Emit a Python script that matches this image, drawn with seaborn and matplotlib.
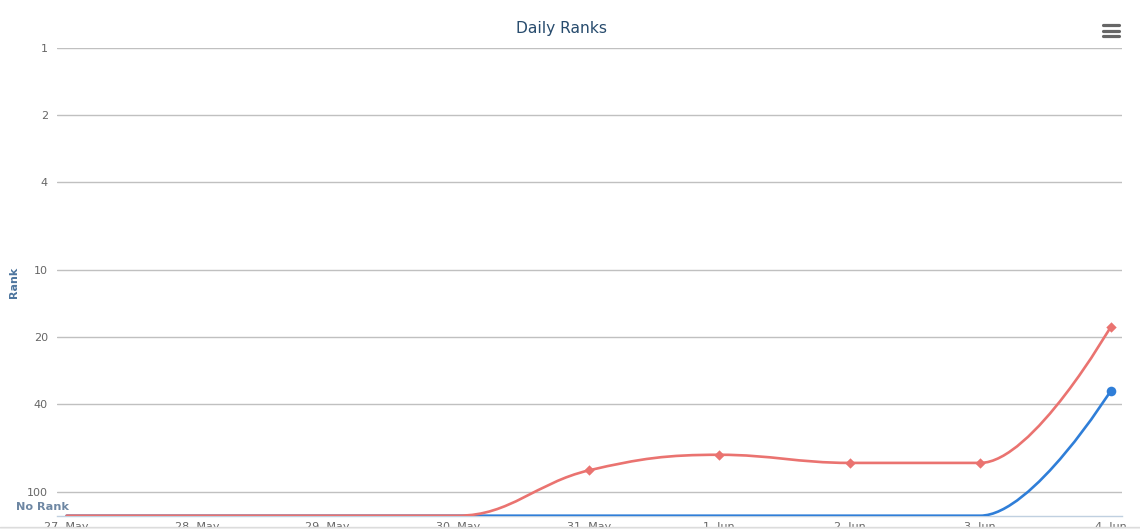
import numpy as np
import pandas as pd
import matplotlib
matplotlib.use('Agg')
import matplotlib.pyplot as plt
import seaborn as sns
from matplotlib.path import Path
from matplotlib.patches import PathPatch, Rectangle
from matplotlib.lines import Line2D
from matplotlib.ticker import FixedLocator, NullLocator, FixedFormatter

# Chart values
DAY_LABELS = ['27. May', '28. May', '29. May', '30. May', '31. May',
              '1. Jun', '2. Jun', '3. Jun', '4. Jun']
NO_RANK = 128  # where "No Rank" sits, the bottom of the axis
RANK_TICKS = [1, 2, 4, 10, 20, 40, 100]
RED_RANKS = [None, None, None, None, 80, 68, 74, 74, 18]
BLUE_RANKS = [None, None, None, None, None, None, None, None, 35]

RED = '#ea7370'
BLUE = '#2f7ed8'
W, H = 1140, 529


def fx(x):
    return x / W


def fy(y):
    return 1 - y / H


def spline_path(xs, ys):
    # Highcharts style spline, computed in (x, log10 rank) space
    ly = [np.log10(v) for v in ys]
    smoothing = 1.5
    denom = smoothing + 1
    right = {}
    verts = [(xs[0], ys[0])]
    codes = [Path.MOVETO]
    for i in range(len(xs)):
        px_, py_ = xs[i], ly[i]
        lcx, lcy = px_, py_
        if 0 < i < len(xs) - 1:
            lx, lyy = xs[i - 1], ly[i - 1]
            nx, ny = xs[i + 1], ly[i + 1]
            lcx = (smoothing * px_ + lx) / denom
            lcy = (smoothing * py_ + lyy) / denom
            rcx = (smoothing * px_ + nx) / denom
            rcy = (smoothing * py_ + ny) / denom
            corr = (rcy - lcy) * (rcx - px_) / (rcx - lcx) + py_ - rcy
            lcy += corr
            rcy += corr
            if lcy > lyy and lcy > py_:
                lcy = max(lyy, py_)
                rcy = 2 * py_ - lcy
            elif lcy < lyy and lcy < py_:
                lcy = min(lyy, py_)
                rcy = 2 * py_ - lcy
            if rcy > ny and rcy > py_:
                rcy = max(ny, py_)
                lcy = 2 * py_ - rcy
            elif rcy < ny and rcy < py_:
                rcy = min(ny, py_)
                lcy = 2 * py_ - rcy
            right[i] = (rcx, rcy)
        if i > 0:
            c1x, c1y = right.get(i - 1, (xs[i - 1], ly[i - 1]))
            verts += [(c1x, 10 ** c1y), (lcx, 10 ** lcy), (px_, 10 ** py_)]
            codes += [Path.CURVE4] * 3
    return Path(verts, codes)


sns.set_style('white')
plt.rcParams['font.family'] = ['DejaVu Sans']

fig = plt.figure(figsize=(W / 100, H / 100), dpi=100)
left, right_, top, bottom = 57, 1121.7, 48.3, 515.7
ax = fig.add_axes([fx(left), fy(bottom), fx(right_ - left), (bottom - top) / H])

x_days = np.arange(len(DAY_LABELS))
ax.set_yscale('log')
ax.set_ylim(NO_RANK, 1)
ax.set_xlim(-0.074, len(DAY_LABELS) - 1 + 0.084)

for y in RANK_TICKS:
    ax.axhline(y, color='#c0c0c0', lw=1, zorder=1)

# lines (blue first, red drawn on top)
for ranks, color in [(BLUE_RANKS, BLUE), (RED_RANKS, RED)]:
    ys = [NO_RANK if r is None else r for r in ranks]
    patch = PathPatch(spline_path(list(x_days), ys), facecolor='none',
                      edgecolor=color, lw=1.9, transform=ax.transData, zorder=3,
                      capstyle='round', joinstyle='round')
    ax.add_patch(patch)

# markers for the ranked days
red_df = pd.DataFrame({'day': x_days, 'rank': RED_RANKS}).dropna()
blue_df = pd.DataFrame({'day': x_days, 'rank': BLUE_RANKS}).dropna()
sns.scatterplot(data=blue_df, x='day', y='rank', ax=ax, color=BLUE, marker='o',
                s=48, edgecolor=BLUE, linewidth=0, zorder=4)
sns.scatterplot(data=red_df, x='day', y='rank', ax=ax, color=RED, marker='D',
                s=28, edgecolor=RED, linewidth=0, zorder=5)

ax.set_xlabel('')
ax.set_ylabel('')
for s in ['top', 'right', 'left']:
    ax.spines[s].set_visible(False)
ax.spines['bottom'].set_color('#c0d0e0')
ax.spines['bottom'].set_linewidth(1)

ax.yaxis.set_major_locator(FixedLocator(RANK_TICKS))
ax.yaxis.set_major_formatter(FixedFormatter([str(t) for t in RANK_TICKS]))
ax.yaxis.set_minor_locator(NullLocator())
ax.tick_params(axis='y', length=0, pad=6.5, labelsize=8, labelcolor='#666666')
ax.set_xticks(x_days)
ax.set_xticklabels(DAY_LABELS)
ax.tick_params(axis='x', direction='out', length=3.6, width=0.8, color='#c0d0e0',
               pad=1, labelsize=8, labelcolor='#666666')

# texts
fig.text(fx(562), fy(28), 'Daily Ranks', ha='center', va='center',
         fontsize=11.2, color='#274b6d')
fig.text(fx(14), fy(282), 'Rank', ha='center', va='center', rotation=90,
         fontsize=8, fontweight='bold', color='#4d759e')
fig.text(fx(42.5), fy(507.5), 'No Rank', ha='center', va='center',
         fontsize=8.1, fontweight='bold', color='#6e87a3')

# export menu icon
for yy in [25, 30.5, 35.5]:
    fig.add_artist(Line2D([fx(1103), fx(1118.5)], [fy(yy), fy(yy)], color='#666666',
                          lw=2.3, solid_capstyle='round'))

# page edge at the very bottom (cuts the date labels like the reference)
fig.add_artist(Rectangle((0, 0), 1, fy(526.5), transform=fig.transFigure,
                         facecolor='#f0f0f0', edgecolor='none', zorder=10))
fig.add_artist(Line2D([0, 1], [fy(526.5), fy(526.5)], color='#dcdcdc', lw=1, zorder=11))

fig.savefig('out.png', dpi=100)
